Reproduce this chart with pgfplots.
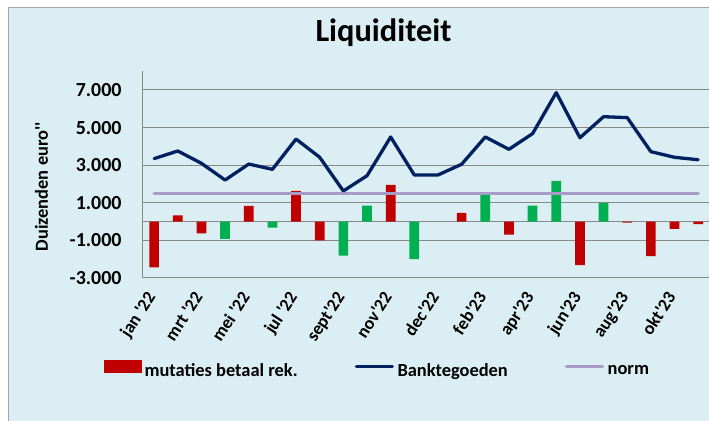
\documentclass[border=0pt]{standalone}
\usepackage{fontspec}
\newfontfamily\cf{Carlito}
\usepackage{pgfplots}
\pgfplotsset{compat=1.18}
\definecolor{bgc}{HTML}{DAEEF3}
\definecolor{bordc}{HTML}{A6A6A6}
\definecolor{gridc}{HTML}{898989}
\definecolor{redc}{HTML}{C00000}
\definecolor{greenc}{HTML}{00B050}
\definecolor{navy}{HTML}{002060}
\definecolor{normc}{HTML}{A99BC8}
\begin{document}
\cf\bfseries
\begin{tikzpicture}
\fill[bgc] (8.5bp,0bp) rectangle (730bp,413.5bp);
\draw[bordc, line width=1.3bp] (8.5bp,0bp) -- (8.5bp,413.5bp) -- (730bp,413.5bp);
\begin{axis}[
  at={(142.3bp,143bp)}, anchor=south west,
  scale only axis, width=567.7bp, height=206.8bp,
  xmin=-0.5, xmax=23.5, ymin=-3000, ymax=8000,
  axis x line*=bottom, axis y line*=left,
  axis line style={draw=gridc, line width=1bp, -},
  major tick length=0pt,
  ytick={-3000,-1000,1000,3000,5000,7000},
  yticklabels={-3.000,-1.000,1.000,3.000,5.000,7.000},
  ymajorgrids, major grid style={draw=gridc, line width=1bp},
  extra y ticks={0}, extra y tick labels={},
  extra y tick style={grid=major, major grid style={draw=gridc, line width=1bp}},
  yticklabel style={anchor=east, inner sep=0pt, xshift=-20.6bp, font=\fontsize{20}{24}\selectfont},
  xtick={0,2,...,22},
  xticklabels={jan \textquotesingle22, mrt \textquotesingle22, mei \textquotesingle22, jul \textquotesingle22, sept\textquotesingle22, nov\textquotesingle22, dec\textquotesingle22, feb\textquotesingle23, apr\textquotesingle23, jun\textquotesingle23, aug\textquotesingle23, okt\textquotesingle23},
  xticklabel style={xshift=2bp, yshift=-19bp, rotate=57, anchor=base east, inner sep=0pt, font=\fontsize{18}{22}\selectfont},
  ylabel={Duizenden euro\textquotesingle\textquotesingle},
  ylabel style={at={(axis description cs:-0.1776,0.4415)}, anchor=center, rotate=0, font=\fontsize{18.5}{22}\selectfont},
  title={Liquiditeit},
  title style={at={(axis description cs:0.4249,1.117)}, anchor=base, font=\fontsize{32.5}{36}\selectfont},
  clip=false,
  legend columns=3,
  legend style={at={(axis description cs:-0.0675,-0.440)}, anchor=west, draw=none, fill=none,
    inner sep=0pt, outer sep=0pt, font=\fontsize{18.5}{22}\selectfont,
    nodes={inner sep=0pt},
    /tikz/every odd column/.append style={column sep=3.5bp},
    /tikz/every even column/.append style={column sep=57bp}},
]
% red bars
\addplot[ybar, bar width=9.7bp, bar shift=0pt, fill=redc, draw=none, forget plot] coordinates {
(0,-2430) (1,335) (2,-620) (4,830) (6,1630) (7,-1000) (10,1950) (13,460) (15,-690) (18,-2310) (20,-60) (21,-1830) (22,-390) (23,-130)};
% green bars
\addplot[ybar, bar width=9.7bp, bar shift=0pt, fill=greenc, draw=none, forget plot] coordinates {
(3,-925) (5,-320) (8,-1810) (9,850) (11,-1990) (14,1410) (16,850) (17,2160) (19,990)};
% norm
\addplot[normc, line width=3.3bp, line cap=round, forget plot] coordinates {(0,1480) (23,1480)};
% Banktegoeden
\addplot[navy, line width=3.3bp, line join=round, line cap=round, forget plot] coordinates {
(0,3350) (1,3755) (2,3100) (3,2210) (4,3060) (5,2780) (6,4390) (7,3420) (8,1630) (9,2440) (10,4500) (11,2480) (12,2480) (13,3050) (14,4500) (15,3845) (16,4680) (17,6860) (18,4460) (19,5580) (20,5530) (21,3720) (22,3420) (23,3290)};
\addlegendimage{legend image code/.code={\fill[redc] (0bp,-1.5bp) rectangle (36.7bp,10.5bp);}}
\addlegendentry{mutaties betaal rek.}
\addlegendimage{legend image code/.code={\draw[navy, line width=3.3bp, line cap=round] (1.5bp,4.5bp) -- (37.5bp,4.5bp);}}
\addlegendentry{Banktegoeden}
\addlegendimage{legend image code/.code={\draw[normc, line width=3.3bp, line cap=round] (1.5bp,4.5bp) -- (37.5bp,4.5bp);}}
\addlegendentry{norm}
\end{axis}
\pgfresetboundingbox
\path[use as bounding box] (0bp,0bp) rectangle (709bp,421bp);
\end{tikzpicture}
\end{document}
